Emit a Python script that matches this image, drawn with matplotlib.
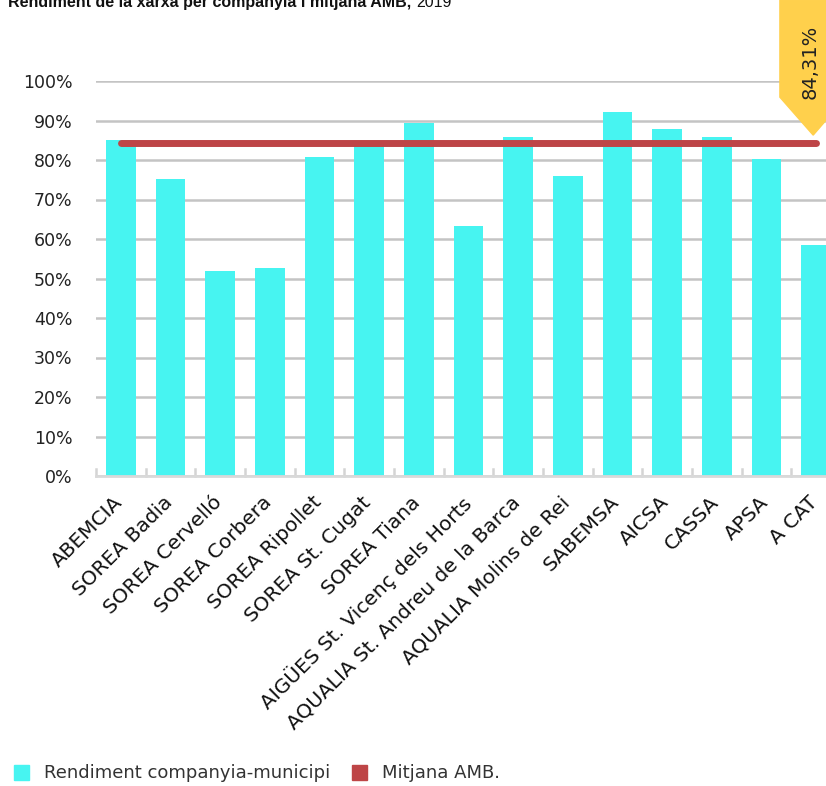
import matplotlib.pyplot as plt
from matplotlib.patches import Polygon, Rectangle
from matplotlib.transforms import ScaledTranslation

# data
companies = ["ABEMCIA", "SOREA Badia", "SOREA Cervelló", "SOREA Corbera",
             "SOREA Ripollet", "SOREA St. Cugat", "SOREA Tiana",
             "AIGÜES St. Vicenç dels Horts", "AQUALIA St. Andreu de la Barca",
             "AQUALIA Molins de Rei", "SABEMSA", "AICSA", "CASSA", "APSA", "A CAT"]
rendiment = [85.1, 75.2, 51.9, 52.7, 80.8, 83.8, 89.4, 63.3, 85.8, 75.9,
             92.2, 87.8, 85.8, 80.3, 58.5]
mitjana_amb = 84.31
yticks = [0, 10, 20, 30, 40, 50, 60, 70, 80, 90, 100]

cyan = "#47F4F1"
red = "#BE4547"
yellow = "#FFD04C"

fig = plt.figure(figsize=(8.26, 7.86), dpi=100)
ax = fig.add_axes([96 / 826, 310 / 786, 745 / 826, 395 / 786])

x = list(range(len(companies)))
ax.bar(x, rendiment, width=0.6, color=cyan, zorder=1)
ax.plot([x[0], x[-1]], [mitjana_amb, mitjana_amb], color=red, lw=5,
        solid_capstyle="round", zorder=3)

ax.set_xlim(-0.5, len(companies) - 0.5)
ax.set_ylim(0, 100)
ax.set_axisbelow(True)
ax.set_yticks(yticks)
ax.set_yticklabels([f"{v}%" for v in yticks], fontsize=12.5, color="#222222")
ax.yaxis.grid(True, color="#c4c4c4", lw=1.8)
ax.tick_params(axis="y", length=0, pad=17)

ax.set_xticks(x)
ax.set_xticklabels(companies, rotation=45, ha="right", rotation_mode="anchor",
                   fontsize=14.5, color="#111111")
ax.tick_params(axis="x", length=0, pad=12)
shift = ScaledTranslation(-8 / 100, 0, fig.dpi_scale_trans)
for lab in ax.get_xticklabels():
    lab.set_transform(lab.get_transform() + shift)
# boundary ticks pointing up
for b in [i - 0.5 for i in range(len(companies) + 1)]:
    ax.plot([b, b], [0, 1.8], color="#d4d4d4", lw=1.8, zorder=2, clip_on=False)

for s in ["top", "right", "left"]:
    ax.spines[s].set_visible(False)
ax.spines["bottom"].set_color("#d9d9d9")
ax.spines["bottom"].set_linewidth(2)

# yellow value label
tag = Polygon([(13.27, 120.5), (13.27, 95.9), (13.94, 86.3), (14.6, 95.9),
               (14.6, 120.5)], closed=True, color=yellow, clip_on=False, zorder=4)
ax.add_patch(tag)
ax.text(13.88, 104.8, "84,31%", rotation=90, ha="center", va="center",
        fontsize=14, color="#222222", zorder=5, clip_on=False)

# title (cut at the top)
t1 = fig.text(8 / 826, 1 - 7 / 786, "Rendiment de la xarxa per companyia i mitjana AMB,",
              fontsize=11.5, fontweight="bold", family="Liberation Sans",
              va="baseline", ha="left", color="#111111")
fig.canvas.draw()
bb = t1.get_window_extent()
fig.text((bb.x1 + 5) / 826, 1 - 7 / 786, "2019", fontsize=11.5,
         family="Liberation Sans", va="baseline", ha="left", color="#111111")

# legend
fig.patches.append(Rectangle((14 / 826, 1 - 780 / 786), 15 / 826, 15 / 786,
                             transform=fig.transFigure, color=cyan))
fig.text(44 / 826, 1 - 773 / 786, "Rendiment companyia-municipi", fontsize=13,
         va="center", color="#333333")
fig.patches.append(Rectangle((352 / 826, 1 - 780 / 786), 15 / 826, 15 / 786,
                             transform=fig.transFigure, color=red))
fig.text(382 / 826, 1 - 773 / 786, "Mitjana AMB.", fontsize=13,
         va="center", color="#333333")

fig.savefig("out.png", dpi=100)
